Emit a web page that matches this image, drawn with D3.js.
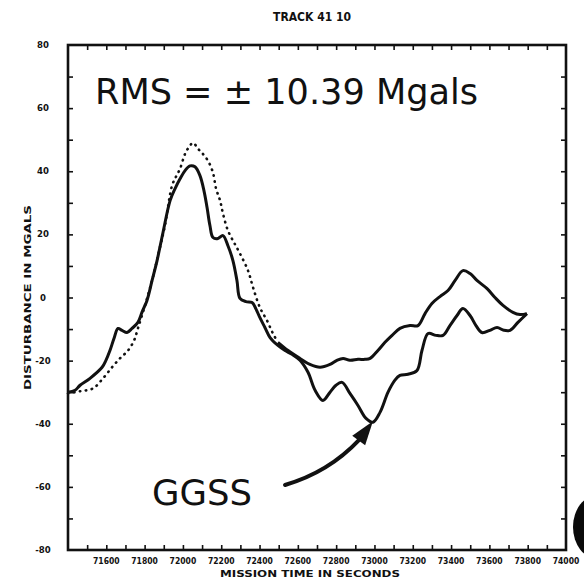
<!DOCTYPE html>
<html>
<head>
<meta charset="utf-8">
<script src="https://cdn.jsdelivr.net/npm/d3@7"></script>
<style>
  body { margin: 0; background: #fff; }
  svg { display: block; }
</style>
</head>
<body>
<svg id="chart" width="584" height="585"></svg>
<script>
// Gravity disturbance along track 41 10 (mGal) versus mission time (s)

// GGSS solid curve
const ggssTime = [71400, 71437, 71463, 71515, 71578, 71598, 71619, 71640, 71661, 71682, 71708, 71734, 71765, 71786, 71812, 71839, 71865, 71896, 71933, 71959, 71985, 72011, 72037, 72063, 72089, 72110, 72126, 72141, 72157, 72183, 72209, 72235, 72261, 72282, 72298, 72329, 72361, 72381, 72402, 72428, 72455, 72496, 72533, 72569, 72611, 72653, 72690, 72731, 72768, 72799, 72831, 72872, 72914, 72956, 72992, 73029, 73071, 73107, 73133, 73175, 73222, 73248, 73280, 73321, 73358, 73394, 73431, 73462, 73499, 73530, 73561, 73603, 73640, 73676, 73708, 73749, 73796];
const ggssValue = [-30.0, -29.4, -27.8, -25.6, -22.1, -19.9, -16.8, -13.0, -9.8, -10.4, -11.1, -9.8, -7.9, -4.7, -1.0, 5.4, 11.7, 20.6, 30.7, 34.5, 37.6, 40.2, 41.7, 41.4, 38.6, 33.8, 28.5, 22.8, 19.0, 18.7, 19.6, 16.4, 11.7, 5.4, -0.3, -1.3, -1.6, -3.6, -6.4, -9.5, -12.7, -15.2, -16.8, -18.0, -19.9, -23.7, -29.4, -32.6, -30.0, -27.8, -26.9, -30.4, -34.2, -38.3, -39.5, -36.4, -30.0, -26.2, -24.7, -24.3, -23.1, -16.8, -11.4, -12.0, -12.0, -8.9, -5.7, -3.5, -5.7, -8.9, -11.1, -10.4, -9.5, -10.4, -10.4, -7.9, -5.1];

// Dotted curve (first half of the reference profile)
const dotTime = [71400, 71463, 71531, 71583, 71630, 71671, 71713, 71745, 71765, 71802, 71839, 71870, 71906, 71943, 71964, 71985, 72011, 72032, 72053, 72079, 72100, 72131, 72157, 72173, 72194, 72209, 72235, 72267, 72298, 72340, 72366, 72402, 72439, 72470, 72496];
const dotValue = [-30.4, -29.7, -28.8, -25.6, -22.1, -19.3, -16.8, -13.6, -9.8, -2.5, 5.4, 13.3, 22.8, 35.4, 38.3, 40.8, 45.5, 47.7, 49.0, 47.1, 45.8, 43.3, 39.5, 34.5, 30.7, 26.6, 21.2, 17.4, 13.9, 8.5, 3.2, -3.2, -7.3, -11.4, -14.2];

// Reference profile continued as a solid line
const refTime = [72496, 72549, 72611, 72663, 72716, 72768, 72804, 72836, 72872, 72914, 72951, 72977, 73018, 73055, 73092, 73133, 73186, 73227, 73264, 73300, 73342, 73384, 73421, 73462, 73499, 73535, 73588, 73629, 73671, 73723, 73760, 73796];
const refValue = [-14.2, -16.8, -19.3, -21.2, -22.1, -21.2, -19.9, -19.3, -19.9, -19.6, -19.6, -19.3, -16.8, -14.2, -12.0, -9.8, -8.9, -8.9, -5.1, -1.9, 0.3, 2.2, 5.4, 8.5, 7.6, 5.4, 2.8, 0.0, -2.5, -4.7, -5.4, -5.1];

// Axis ticks and labels
const xTickValues = [71600, 71800, 72000, 72200, 72400, 72600, 72800, 73000, 73200, 73400, 73600, 73800, 74000];
const xTickLabels = ["71600", "71800", "72000", "72200", "72400", "72600", "72800", "73000", "73200", "73400", "73600", "73800", "74000"];
const yTickValues = [-80, -60, -40, -20, 0, 20, 40, 60, 80];
const yTickLabels = ["-80", "-60", "-40", "-20", "0", "20", "40", "60", "80"];

const titleText = "TRACK 41 10";
const xTitle = "MISSION TIME IN SECONDS";
const yTitle = "DISTURBANCE IN MGALS";
const rmsNote = "RMS = \u00B1 10.39 Mgals";
const curveNote = "GGSS";

const svg = d3.select("#chart");
const plotLeft = 68, plotRight = 566, plotTop = 45, plotBottom = 550;

const x = d3.scaleLinear().domain([71400, 74000]).range([plotLeft, plotRight]);
const y = d3.scaleLinear().domain([-80, 80]).range([plotBottom, plotTop]);

const axisFont = "'Liberation Sans Narrow', 'DejaVu Sans Condensed', 'Liberation Sans', sans-serif";

// Dark scan mark at the lower-right edge
svg.append("ellipse")
  .attr("cx", 598).attr("cy", 527)
  .attr("rx", 25).attr("ry", 32)
  .attr("fill", "#0a0a0a");

// Minor/major ticks on all four sides (pointing inward)
const xMinor = d3.range(71500, 74000, 100);
const yMinor = d3.range(-70, 80, 10);

const g = svg.append("g");

function styleTicks(a) {
  a.select(".domain").remove();
  a.selectAll("line").attr("stroke", "#111").attr("stroke-width", 1.6);
}

g.append("g")
  .attr("transform", `translate(0,${plotBottom})`)
  .call(d3.axisTop(x).tickValues(xMinor).tickSize(5).tickFormat(""))
  .call(styleTicks);

g.append("g")
  .attr("transform", `translate(0,${plotTop})`)
  .call(d3.axisBottom(x).tickValues(xMinor).tickSize(5).tickFormat(""))
  .call(styleTicks);

g.append("g")
  .attr("transform", `translate(${plotLeft},0)`)
  .call(d3.axisRight(y).tickValues(yMinor).tickSize(5).tickFormat(""))
  .call(styleTicks);

g.append("g")
  .attr("transform", `translate(${plotRight},0)`)
  .call(d3.axisLeft(y).tickValues(yMinor).tickSize(5).tickFormat(""))
  .call(styleTicks);

// Frame
g.append("rect")
  .attr("x", plotLeft).attr("y", plotTop)
  .attr("width", plotRight - plotLeft).attr("height", plotBottom - plotTop)
  .attr("fill", "none").attr("stroke", "#111").attr("stroke-width", 2.6);

// Tick labels
g.selectAll(".xlab").data(xTickValues).join("text")
  .attr("class", "xlab")
  .attr("x", d => x(d))
  .attr("y", plotBottom + 14)
  .attr("text-anchor", "middle")
  .attr("font-family", axisFont)
  .attr("font-weight", "bold")
  .attr("font-size", 8.5)
  .attr("fill", "#111")
  .text((d, i) => xTickLabels[i]);

g.selectAll(".ylab").data(yTickValues).join("text")
  .attr("class", "ylab")
  .attr("x", plotLeft - 25)
  .attr("y", d => y(d) + 3)
  .attr("text-anchor", "middle")
  .attr("font-family", axisFont)
  .attr("font-weight", "bold")
  .attr("font-size", 9.5)
  .attr("fill", "#111")
  .text((d, i) => yTickLabels[i]);

// Titles
svg.append("text")
  .attr("x", 312).attr("y", 21)
  .attr("text-anchor", "middle")
  .attr("font-family", axisFont).attr("font-weight", "bold")
  .attr("font-size", 12).attr("fill", "#111")
  .text(titleText);

svg.append("text")
  .attr("x", 310).attr("y", 577)
  .attr("text-anchor", "middle")
  .attr("font-family", axisFont).attr("font-weight", "bold")
  .attr("font-size", 9).attr("fill", "#111")
  .attr("textLength", 180).attr("lengthAdjust", "spacingAndGlyphs")
  .text(xTitle);

svg.append("text")
  .attr("transform", `translate(31,${(plotTop + plotBottom) / 2}) rotate(-90)`)
  .attr("text-anchor", "middle")
  .attr("font-family", axisFont).attr("font-weight", "bold")
  .attr("font-size", 9).attr("fill", "#111")
  .attr("textLength", 185).attr("lengthAdjust", "spacingAndGlyphs")
  .text(yTitle);

// Data curves
const line = d3.line().x(d => x(d[0])).y(d => y(d[1])).curve(d3.curveCatmullRom.alpha(0.5));

const ggss = ggssTime.map((t, i) => [t, ggssValue[i]]);
const dots = dotTime.map((t, i) => [t, dotValue[i]]);
const ref = refTime.map((t, i) => [t, refValue[i]]);

g.append("path").datum(dots)
  .attr("d", line)
  .attr("fill", "none").attr("stroke", "#111")
  .attr("stroke-width", 2.6)
  .attr("stroke-linecap", "round")
  .attr("stroke-dasharray", "0.5,5.5");

g.append("path").datum(ref)
  .attr("d", line)
  .attr("fill", "none").attr("stroke", "#111")
  .attr("stroke-width", 3).attr("stroke-linejoin", "round");

g.append("path").datum(ggss)
  .attr("d", line)
  .attr("fill", "none").attr("stroke", "#111")
  .attr("stroke-width", 3).attr("stroke-linejoin", "round");

// Hand-written annotations
const handFont = "'DejaVu Sans', 'Noto Sans', sans-serif";

svg.append("text")
  .attr("x", x(71541)).attr("y", y(61.3))
  .attr("font-family", handFont)
  .attr("font-size", 35).attr("fill", "#111")
  .attr("textLength", 383).attr("lengthAdjust", "spacingAndGlyphs")
  .text(rmsNote);

svg.append("text")
  .attr("x", x(71839)).attr("y", y(-65.8))
  .attr("font-family", handFont)
  .attr("font-size", 36).attr("fill", "#111")
  .attr("textLength", 100).attr("lengthAdjust", "spacingAndGlyphs")
  .text(curveNote);

// Arrow from the label to the deepest GGSS point
const minIdx = d3.minIndex(ggssValue);
const tip = [x(ggssTime[minIdx]), y(ggssValue[minIdx]) - 1];
const start = [x(72533), y(-59.4)];
const ctrl = [x(72760), y(-55.4)];
const end = [tip[0] - 14, tip[1] + 19];

const arrowPath = d3.path();
arrowPath.moveTo(start[0], start[1]);
arrowPath.quadraticCurveTo(ctrl[0], ctrl[1], end[0], end[1]);
svg.append("path")
  .attr("d", arrowPath.toString())
  .attr("fill", "none").attr("stroke", "#111")
  .attr("stroke-width", 4).attr("stroke-linecap", "round");

const dx = tip[0] - end[0], dy = tip[1] - end[1];
const len = Math.hypot(dx, dy);
const ux = dx / len, uy = dy / len;
const back = [tip[0] - ux * 24, tip[1] - uy * 24];
const hw = 8;
svg.append("path")
  .attr("d", `M${tip[0]},${tip[1]}L${back[0] - uy * hw},${back[1] + ux * hw}L${back[0] + uy * hw},${back[1] - ux * hw}Z`)
  .attr("fill", "#111");
</script>
</body>
</html>
